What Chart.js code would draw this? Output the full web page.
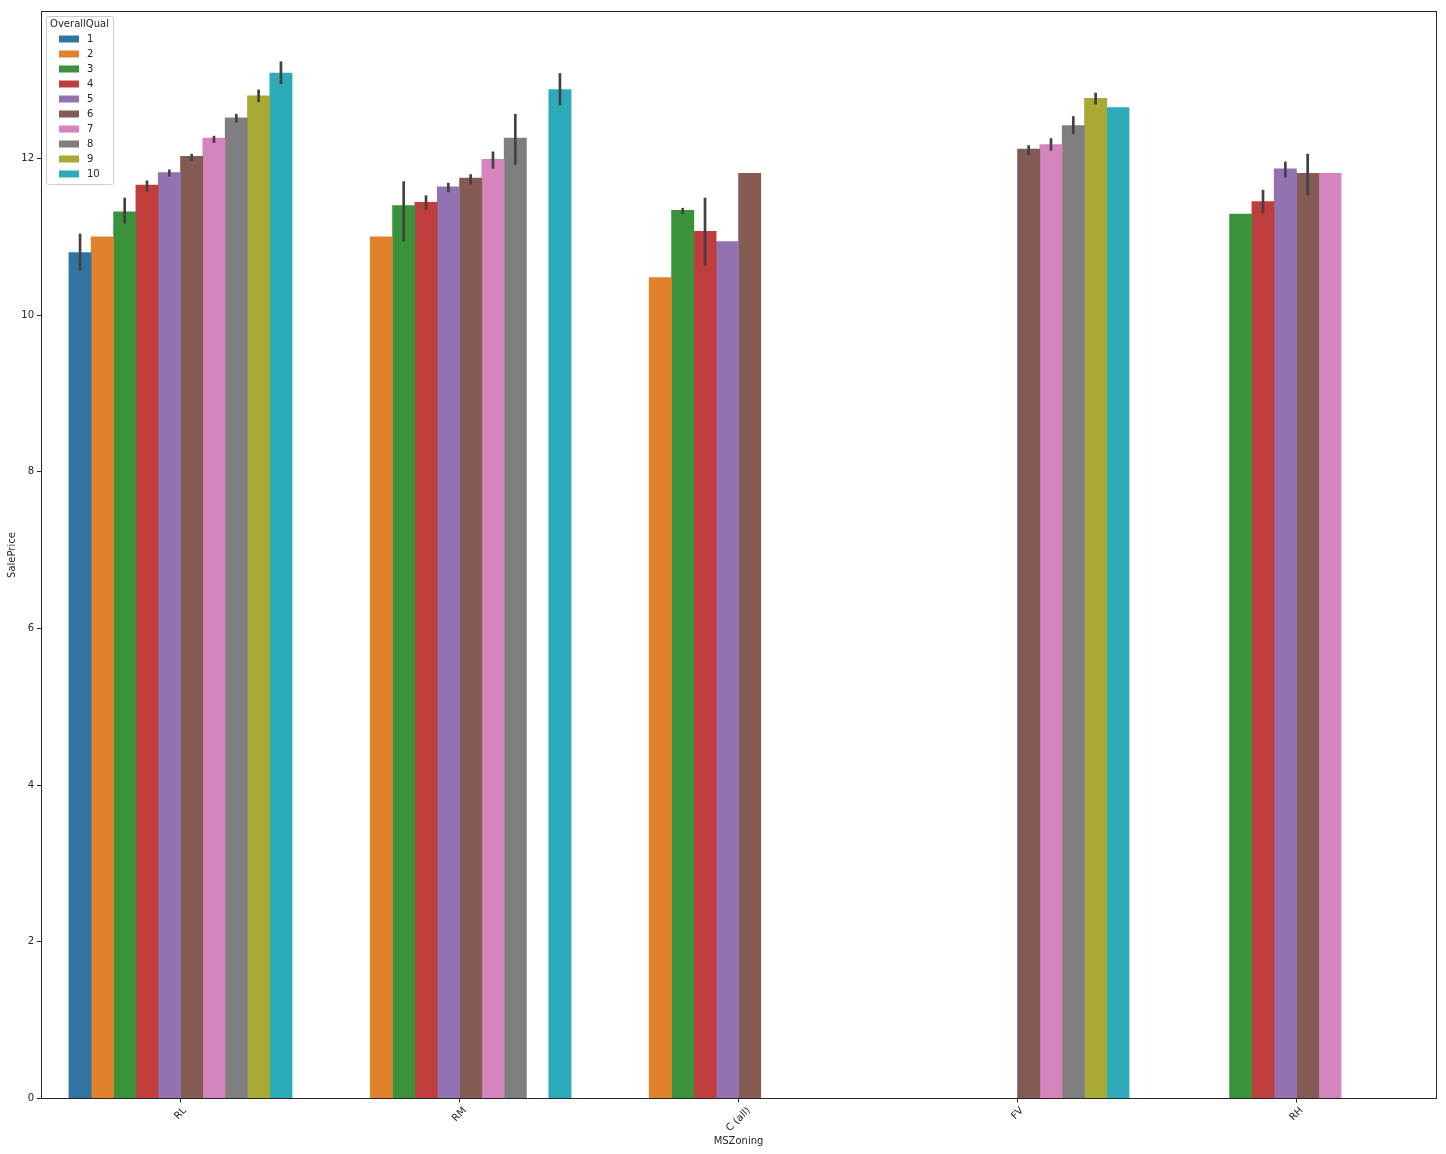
<!DOCTYPE html>
<html>
<head>
<meta charset="utf-8">
<title>SalePrice by MSZoning</title>
<script src="https://cdn.jsdelivr.net/npm/chart.js@4"></script>
<style>
  html, body { margin: 0; padding: 0; background: #fff; }
  canvas { display: block; }
</style>
</head>
<body>
<canvas id="chart" width="1446" height="1154"></canvas>
<script>
const categories = ['RL', 'RM', 'C (all)', 'FV', 'RH'];
const qualLevels = ['1', '2', '3', '4', '5', '6', '7', '8', '9', '10'];
const yTicks = [0, 2, 4, 6, 8, 10, 12];
const yMax = 13.877;

// mean per quality level, one entry per zoning
const qual1 = [10.80, null, null, null, null];
const qual2 = [11.00, 11.00, 10.48, null, null];
const qual3 = [11.32, 11.40, 11.34, null, 11.29];
const qual4 = [11.66, 11.44, 11.07, null, 11.45];
const qual5 = [11.82, 11.64, 10.94, null, 11.87];
const qual6 = [12.03, 11.75, 11.81, 12.12, 11.81];
const qual7 = [12.26, 11.99, null, 12.18, 11.81];
const qual8 = [12.52, 12.26, null, 12.42, null];
const qual9 = [12.80, null, null, 12.77, null];
const qual10 = [13.09, 12.88, null, 12.65, null];
const qualValues = [qual1, qual2, qual3, qual4, qual5, qual6, qual7, qual8, qual9, qual10];

// confidence interval ends, same shape as the means
const errLow = [
  [10.57, null, null, null, null],
  [null, null, null, null, null],
  [11.17, 10.94, 11.29, null, null],
  [11.58, 11.34, 10.63, null, 11.30],
  [11.77, 11.57, null, null, 11.76],
  [11.97, 11.67, null, 12.04, 11.53],
  [12.20, 11.87, null, 12.10, null],
  [12.46, 11.92, null, 12.31, null],
  [12.72, null, null, 12.69, null],
  [12.95, 12.68, null, null, null]
];
const errHigh = [
  [11.04, null, null, null, null],
  [null, null, null, null, null],
  [11.50, 11.71, 11.37, null, null],
  [11.72, 11.53, 11.50, null, 11.60],
  [11.86, 11.69, null, null, 11.96],
  [12.06, 11.80, null, 12.17, 12.06],
  [12.29, 12.09, null, 12.26, null],
  [12.57, 12.57, null, 12.54, null],
  [12.88, null, null, 12.84, null],
  [13.24, 13.09, null, null, null]
];

const barColors = ['#3274a1', '#e1812c', '#3a923a', '#c03d3e', '#9372b2', '#845b53', '#d684bd', '#7f7f7f', '#a9aa35', '#2eabb8'];
const inkColor = '#262626';
const fontFamily = '"DejaVu Sans", sans-serif';

const errorBars = {
  id: 'errorBars',
  afterDatasetsDraw(chart) {
    const { ctx, scales: { y } } = chart;
    ctx.save();
    ctx.strokeStyle = '#424242';
    ctx.lineWidth = 2.7;
    chart.data.datasets.forEach((ds, d) => {
      chart.getDatasetMeta(d).data.forEach((bar, i) => {
        if (errLow[d][i] == null) return;
        ctx.beginPath();
        ctx.moveTo(bar.x, y.getPixelForValue(errLow[d][i]));
        ctx.lineTo(bar.x, y.getPixelForValue(errHigh[d][i]));
        ctx.stroke();
      });
    });
    ctx.restore();
  }
};

const frameAndLabels = {
  id: 'frameAndLabels',
  afterDraw(chart) {
    const { ctx, chartArea: a, scales: { x } } = chart;
    ctx.save();
    ctx.strokeStyle = inkColor;
    ctx.lineWidth = 1;
    ctx.strokeRect(a.left + 0.5, a.top, a.width, a.height);

    // x tick labels turn round their own centre, which the library can't do
    ctx.font = '10px ' + fontFamily;
    ctx.fillStyle = inkColor;
    ctx.textAlign = 'center';
    ctx.textBaseline = 'middle';
    x.ticks.forEach((tick, i) => {
      const text = x.getLabelForValue(tick.value);
      const half = (ctx.measureText(text).width + 10) * Math.SQRT1_2 / 2;
      ctx.save();
      ctx.translate(x.getPixelForTick(i), a.bottom + 7 + half);
      ctx.rotate(-Math.PI / 4);
      ctx.fillText(text, 0, 0);
      ctx.restore();
    });

    // legend box
    ctx.strokeStyle = '#cccccc';
    ctx.beginPath();
    ctx.roundRect(46.5, 16.5, 67, 168, 2);
    ctx.stroke();
    ctx.textAlign = 'center';
    ctx.fillText('OverallQual', 79.5, 24.5);
    ctx.textAlign = 'left';
    chart.data.datasets.forEach((ds, d) => {
      const rowY = 39 + d * 15;
      ctx.fillStyle = ds.backgroundColor;
      ctx.fillRect(59, rowY - 3.5, 20, 7);
      ctx.fillStyle = inkColor;
      ctx.fillText(ds.label, 87, rowY + 0.5);
    });
    ctx.restore();
  }
};

new Chart(document.getElementById('chart'), {
  type: 'bar',
  data: {
    labels: categories,
    datasets: qualLevels.map((level, d) => ({
      label: level,
      data: qualValues[d],
      backgroundColor: barColors[d],
      borderWidth: 0,
      inflateAmount: 0.3,
      barPercentage: 1,
      categoryPercentage: 0.8
    }))
  },
  options: {
    responsive: false,
    animation: false,
    devicePixelRatio: 1,
    layout: { padding: { top: 11.5, right: 10, left: 0, bottom: 0 } },
    plugins: { legend: { display: false }, tooltip: { enabled: false } },
    scales: {
      x: {
        afterFit(scale) { scale.height = 55.5; },
        grid: { drawOnChartArea: false, drawTicks: true, tickLength: 4, tickColor: inkColor, offset: false },
        border: { display: false },
        ticks: { display: false },
        title: {
          display: true, text: 'MSZoning', color: inkColor,
          font: { family: fontFamily, size: 10 }, padding: { top: 0, bottom: 7 }
        }
      },
      y: {
        min: 0,
        max: yMax,
        afterFit(scale) { scale.width = 41; },
        afterBuildTicks(scale) { scale.ticks = yTicks.map(value => ({ value })); },
        grid: { drawOnChartArea: false, drawTicks: true, tickLength: 4, tickColor: inkColor },
        border: { display: false },
        ticks: { color: inkColor, padding: 3, font: { family: fontFamily, size: 10 } },
        title: {
          display: true, text: 'SalePrice', color: inkColor,
          font: { family: fontFamily, size: 10 }, padding: { top: 6, bottom: 0 }
        }
      }
    }
  },
  plugins: [errorBars, frameAndLabels]
});
</script>
</body>
</html>
